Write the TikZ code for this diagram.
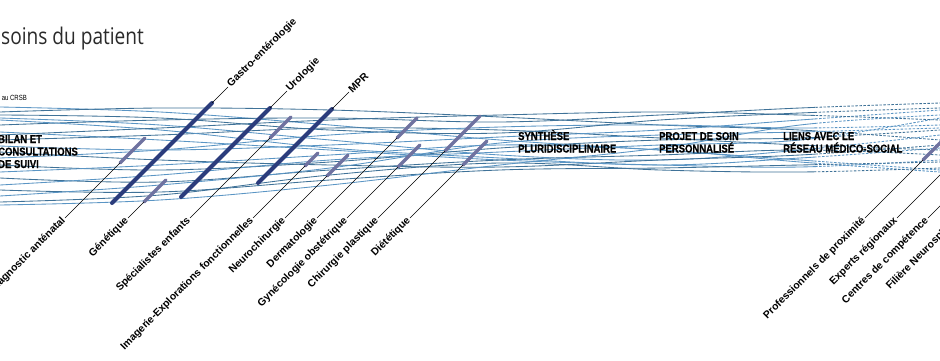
\documentclass[tikz,border=0pt]{standalone}
\usepackage{fontspec}
\setmainfont{Liberation Sans}
\newfontfamily\titlefont[FakeStretch=0.83]{Open Sans}
\newfontfamily\headfont[FakeStretch=0.84,FakeBold=0.6]{Liberation Sans}
\newfontfamily\smallfont[FakeStretch=0.8]{Liberation Sans}
\newfontfamily\labfont{Liberation Sans}
\usetikzlibrary{calc}
\definecolor{waveA}{HTML}{5A95C4}
\definecolor{waveB}{HTML}{3F7298}
\definecolor{barDark}{HTML}{2B3C7C}
\definecolor{barLight}{HTML}{6F72A0}
\definecolor{titlegray}{HTML}{2A2A2A}

\tikzset{
  lab/.style={font=\labfont\bfseries\fontsize{10.4}{12}\selectfont, rotate=45, inner sep=1.5pt, text=black},
  leader/.style={draw=black, line width=0.6pt},
  darkbar/.style={draw=barDark, line width=4pt, line cap=round},
  lightbar/.style={draw=barLight, line width=3.5pt, line cap=round},
  head/.style={font=\headfont\bfseries\fontsize{11.3}{12.5}\selectfont, align=left, inner sep=0pt, anchor=base west, text=black},
  wa/.style={draw=waveA, line width=0.85pt},
  wb/.style={draw=waveB, line width=0.85pt},
}

\newcommand\drawwaves[1]{%
  \draw[wa,#1] plot[smooth,tension=0.6] coordinates {(0,107) (160,112) (330,125) (500,140) (660,150) (800,160) (940,170)};
  \draw[wb,#1] plot[smooth,tension=0.6] coordinates {(0,112) (160,108) (330,110) (500,117) (660,125) (800,130) (940,140)};
  \draw[wa,#1] plot[smooth,tension=0.6] coordinates {(0,118) (160,125) (330,140) (500,155) (660,160) (800,150) (940,135)};
  \draw[wb,#1] plot[smooth,tension=0.6] coordinates {(0,125) (160,120) (330,118) (500,122) (660,115) (800,108) (940,103)};
  \draw[wa,#1] plot[smooth,tension=0.6] coordinates {(0,132) (160,140) (330,150) (500,160) (660,165) (800,167) (940,160)};
  \draw[wb,#1] plot[smooth,tension=0.6] coordinates {(0,140) (160,135) (330,128) (500,130) (660,138) (800,145) (940,150)};
  \draw[wa,#1] plot[smooth,tension=0.6] coordinates {(0,146) (160,150) (330,145) (500,137) (660,130) (800,120) (940,110)};
  \draw[wb,#1] plot[smooth,tension=0.6] coordinates {(0,152) (160,160) (330,165) (500,167) (660,160) (800,155) (940,145)};
  \draw[wa,#1] plot[smooth,tension=0.6] coordinates {(0,158) (160,150) (330,135) (500,127) (660,125) (800,128) (940,125)};
  \draw[wb,#1] plot[smooth,tension=0.6] coordinates {(0,165) (160,170) (330,162) (500,148) (660,140) (800,138) (940,130)};
  \draw[wa,#1] plot[smooth,tension=0.6] coordinates {(0,172) (160,165) (330,155) (500,145) (660,150) (800,162) (940,172)};
  \draw[wb,#1] plot[smooth,tension=0.6] coordinates {(0,178) (160,182) (330,170) (500,160) (660,155) (800,150) (940,155)};
  \draw[wa,#1] plot[smooth,tension=0.6] coordinates {(0,185) (160,175) (330,160) (500,152) (660,145) (800,140) (940,118)};
  \draw[wb,#1] plot[smooth,tension=0.6] coordinates {(0,190) (160,192) (330,180) (500,170) (660,168) (800,165) (940,162)};
  \draw[wa,#1] plot[smooth,tension=0.6] coordinates {(0,196) (160,185) (330,168) (500,143) (660,135) (800,132) (940,128)};
  \draw[wb,#1] plot[smooth,tension=0.6] coordinates {(0,202) (160,195) (330,175) (500,163) (660,170) (800,172) (940,168)};
  \draw[wa,#1] plot[smooth,tension=0.6] coordinates {(0,205) (160,200) (330,185) (500,165) (660,148) (800,125) (940,115)};
  \draw[wb,#1] plot[smooth,tension=0.6] coordinates {(0,115) (160,118) (330,130) (500,133) (660,120) (800,113) (940,108)};
  \draw[wa,#1] plot[smooth,tension=0.6] coordinates {(0,120) (160,130) (330,148) (500,158) (660,165) (800,158) (940,148)};
  \draw[wb,#1] plot[smooth,tension=0.6] coordinates {(0,135) (160,128) (330,120) (500,115) (660,112) (800,115) (940,120)};
}

\begin{document}
\begin{tikzpicture}[x=1pt,y=-1pt]
\useasboundingbox (0,0) rectangle (940,361);
\clip (0,0) rectangle (940,361);
\fill[white] (0,0) rectangle (940,361);

% title
\node[font=\titlefont\fontsize{23}{26}\selectfont, text=titlegray, anchor=base west, inner sep=0pt] (title) at (1,45) {soins du patient};
\node[font=\smallfont\fontsize{7.5}{8}\selectfont, anchor=base east, inner sep=0pt] (crsb) at (27,100) {au CRSB};

% waves
\begin{scope}
  \clip (0,0) rectangle (815,361);
  \drawwaves{}
\end{scope}
\begin{scope}
  \clip (815,0) rectangle (940,361);
  \drawwaves{dash pattern=on 2.5pt off 1.5pt}
\end{scope}

% bar coordinates
\coordinate (diagA) at (120,163); \coordinate (diagB) at (145,138);
\coordinate (geneA) at (144,202); \coordinate (geneB) at (166,180);
\coordinate (specA) at (270,138); \coordinate (specB) at (291,117);
\coordinate (imagA) at (305,166); \coordinate (imagB) at (318,153);
\coordinate (neurA) at (327,176); \coordinate (neurB) at (348,155);
\coordinate (dermA) at (397,138); \coordinate (dermB) at (417,118);
\coordinate (gyneA) at (398,167); \coordinate (gyneB) at (420,145);
\coordinate (chirA) at (445,151); \coordinate (chirB) at (480,116);
\coordinate (dietA) at (463,165); \coordinate (dietB) at (487,141);
\coordinate (profA) at (923,160); \coordinate (profB) at (948,135);
\coordinate (expeA) at (967,148);
\coordinate (centA) at (968,178);
\coordinate (filiA) at (998,178);
\coordinate (gastA) at (112,203); \coordinate (gastB) at (212,103);
\coordinate (uroA) at (181,197);  \coordinate (uroB) at (270,108);
\coordinate (mprA) at (258,183);  \coordinate (mprB) at (332,109);

% bars
\draw[lightbar] (diagA) -- (diagB);
\draw[lightbar] (geneA) -- (geneB);
\draw[lightbar] (specA) -- (specB);
\draw[lightbar] (imagA) -- (imagB);
\draw[lightbar] (neurA) -- (neurB);
\draw[lightbar] (dermA) -- (dermB);
\draw[lightbar] (gyneA) -- (gyneB);
\draw[lightbar] (chirA) -- (chirB);
\draw[lightbar] (dietA) -- (dietB);
\draw[lightbar] (profA) -- (profB);
\draw[darkbar] (gastA) -- (gastB);
\draw[darkbar] (uroA) -- (uroB);
\draw[darkbar] (mprA) -- (mprB);

% bottom labels
\node[lab, anchor=east] (diag) at (65,218) {Diagnostic anténatal};
\node[lab, anchor=east] (gene) at (128,218) {Génétique};
\node[lab, anchor=east] (spec) at (190,218) {Spécialistes enfants};
\node[lab, anchor=east] (imag) at (253,218) {Imagerie-Explorations fonctionnelles};
\node[lab, anchor=east] (neur) at (285,218) {Neurochirurgie};
\node[lab, anchor=east] (derm) at (317,218) {Dermatologie};
\node[lab, anchor=east] (gyne) at (347,218) {Gynécologie obstétrique};
\node[lab, anchor=east] (chir) at (378,218) {Chirurgie plastique};
\node[lab, anchor=east] (diet) at (410,218) {Diététique};
\node[lab, anchor=east] (prof) at (865,218) {Professionnels de proximité};
\node[lab, anchor=east] (expe) at (897,218) {Experts régionaux};
\node[lab, anchor=east] (cent) at (928,218) {Centres de compétence};
\node[lab, anchor=east] (fili) at (958,218) {Filière Neurosphinx};

% top labels
\node[lab, anchor=west] (gast) at (228,87) {Gastro-entérologie};
\node[lab, anchor=west] (uro) at (287,91) {Urologie};
\node[lab, anchor=west] (mpr) at (349,92) {MPR};

% leaders
\foreach \n in {diag,gene,spec,imag,neur,derm,gyne,chir,diet,prof,expe,cent,fili}
  \draw[leader] (\n.east) -- (\n A);
\foreach \n in {gast,uro,mpr}
  \draw[leader] (\n B) -- (\n.west);

% headings (base anchor = baseline of last line)
\node[head] (bilan) at (-2,168) {BILAN ET\\CONSULTATIONS\\DE SUIVI};
\node[head] (synth) at (518,152.5) {SYNTHÈSE\\PLURIDISCIPLINAIRE};
\node[head] (projet) at (659,152.5) {PROJET DE SOIN\\PERSONNALISÉ};
\node[head] (liens) at (783,152.5) {LIENS AVEC LE\\RÉSEAU MÉDICO-SOCIAL};
\end{tikzpicture}
\end{document}
